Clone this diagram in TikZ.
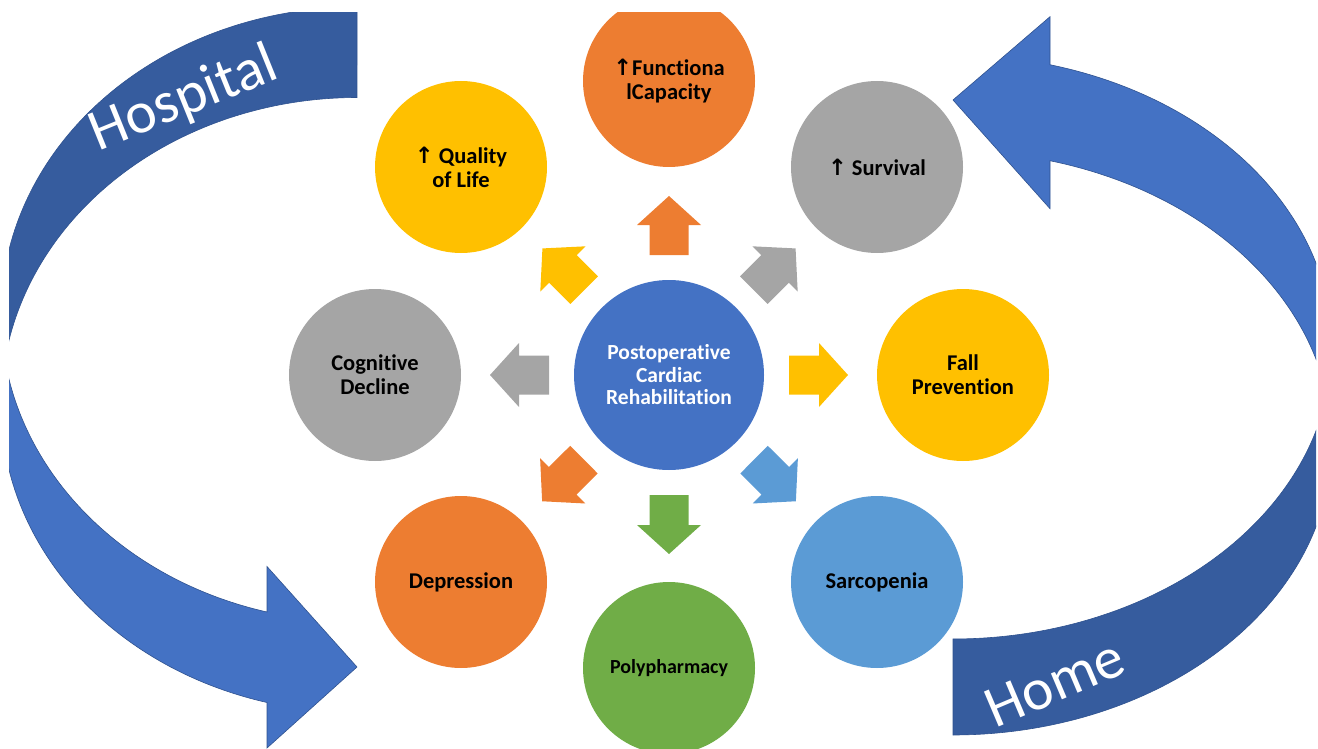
\documentclass[tikz,border=0pt]{standalone}
\usepackage{fontspec}
\setmainfont{Carlito}[Ligatures=NoCommon]
\newfontfamily\symfont{DejaVu Sans}
\usetikzlibrary{calc}
\definecolor{cblue}{HTML}{4472C4}
\definecolor{corange}{HTML}{ED7D31}
\definecolor{cyellow}{HTML}{FFC000}
\definecolor{cgray}{HTML}{A5A5A5}
\definecolor{cgreen}{HTML}{70AD47}
\definecolor{clblue}{HTML}{5B9BD5}
\definecolor{cdark}{HTML}{365C9E}
\definecolor{cline}{HTML}{2F528F}
\newcommand\uparr{{\symfont\bfseries ↑}}
\tikzset{
  ring/.style={circle, minimum size=172pt, inner sep=0pt, align=center,
    font=\fontsize{22.5}{24}\selectfont\bfseries, text=black},
  hub/.style={circle, minimum size=190pt, inner sep=0pt, fill=cblue, align=center,
    font=\fontsize{21.5}{22.5}\selectfont\bfseries, text=white},
  bigband/.style={draw=cline, line width=0.6pt},
  placetext/.style={font=\fontsize{59}{60}\selectfont, text=white, inner sep=0pt},
}
\newcommand\blockarrow[3]{%
  \path ($(#1.center)!120pt!(#2.center)$) coordinate (ba-t)
        ($(#1.center)!150pt!(#2.center)$) coordinate (ba-h)
        ($(#1.center)!179pt!(#2.center)$) coordinate (ba-p);
  \fill[#3] ($(ba-t)!19.5pt!90:(#2.center)$) -- ($(ba-h)!19.5pt!90:(#2.center)$)
    -- ($(ba-h)!32pt!90:(#2.center)$) -- (ba-p) -- ($(ba-h)!32pt!-90:(#2.center)$)
    -- ($(ba-h)!19.5pt!-90:(#2.center)$) -- ($(ba-t)!19.5pt!-90:(#2.center)$) -- cycle;
}
\begin{document}
\begin{tikzpicture}[x=1pt,y=1pt]
\useasboundingbox (0,0) rectangle (1318,-749);
\begin{scope}
\clip (9,-13) rectangle (1316,-749);
% Hospital curved arrow
\fill[cdark, bigband]
  plot[domain=270:171.54, samples=90] ({357+356*cos(\x)}, {-314.5-307.5*sin(\x)})
  -- plot[domain=188.46:270, samples=90] ({357+356*cos(\x)}, {-405-307.5*sin(\x)})
  -- cycle;
\fill[cblue, bigband]
  plot[domain=171.54:104.64, samples=90] ({357+356*cos(\x)}, {-314.5-307.5*sin(\x)})
  -- (267,-566.5) -- (357,-667) -- (267,-748)
  -- plot[domain=104.64:188.46, samples=90] ({357+356*cos(\x)}, {-405-307.5*sin(\x)})
  -- cycle;
% Home curved arrow
\fill[cdark, bigband]
  plot[domain=90:-9.46, samples=90] ({953+379*cos(\x)}, {-443-292*sin(\x)})
  -- plot[domain=9.46:90, samples=90] ({953+379*cos(\x)}, {-347-292*sin(\x)})
  -- cycle;
\fill[cblue, bigband]
  plot[domain=9.46:-75.17, samples=90] ({953+379*cos(\x)}, {-347-292*sin(\x)})
  -- (1050,-16.7) -- (953,-100) -- (1050,-208.7)
  -- plot[domain=-75.17:-9.46, samples=90] ({953+379*cos(\x)}, {-443-292*sin(\x)})
  -- cycle;
\node[placetext, rotate=22] (hosp) at (184,-100) {Hospital};
\node[placetext, rotate=23] (home) at (1055,-683) {Home};
% circles
\node[hub] (hubc) at (669,-375) {Postoperative\\Cardiac\\Rehabilitation};
\node[ring, fill=corange] (func) at (669,-81) {\uparr Functiona\\lCapacity};
\node[ring, fill=cyellow] (qol) at (461,-167) {\uparr{} Quality\\of Life};
\node[ring, fill=cgray] (surv) at (877,-167) {\uparr{} Survival};
\node[ring, fill=cgray] (cog) at (375,-375) {Cognitive\\Decline};
\node[ring, fill=cyellow] (fall) at (963,-375) {Fall\\Prevention};
\node[ring, fill=corange] (dep) at (461,-582) {Depression};
\node[ring, fill=cgreen, font=\fontsize{20}{22}\selectfont\bfseries] (poly) at (669,-668) {Polypharmacy};
\node[ring, fill=clblue] (sarc) at (877,-582) {Sarcopenia};
% block arrows
\blockarrow{hubc}{func}{corange}
\blockarrow{hubc}{qol}{cyellow}
\blockarrow{hubc}{surv}{cgray}
\blockarrow{hubc}{cog}{cgray}
\blockarrow{hubc}{fall}{cyellow}
\blockarrow{hubc}{dep}{corange}
\blockarrow{hubc}{poly}{cgreen}
\blockarrow{hubc}{sarc}{clblue}
\end{scope}
\end{tikzpicture}
\end{document}
